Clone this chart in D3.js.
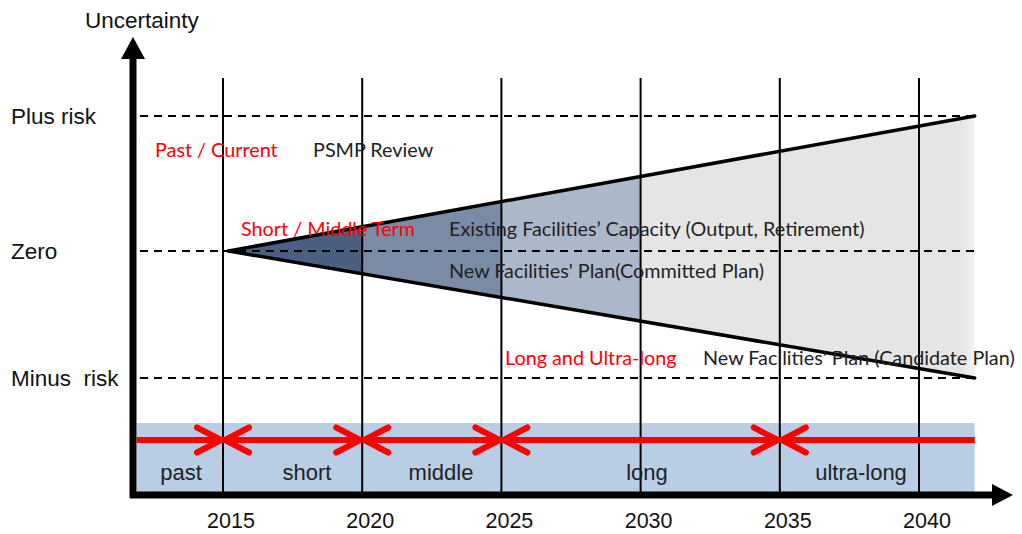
<!DOCTYPE html>
<html><head><meta charset="utf-8">
<script src="https://cdn.jsdelivr.net/npm/d3@7/dist/d3.min.js"></script>
<style>html,body{margin:0;padding:0;background:#fff;}svg{display:block;}</style>
</head><body>
<svg id="chart" width="1022" height="534"></svg>
<script>
// ---- data ----
const years = [2015, 2020, 2025, 2030, 2035, 2040];
const yearLabels = ["2015", "2020", "2025", "2030", "2035", "2040"];
const riskLevels = [1, 0, -1];
const riskLabels = ["Plus risk", "Zero", "Minus  risk"];
const periodNames = ["past", "short", "middle", "long", "ultra-long"];
const periodStarts = [2011.9, 2015, 2020, 2025, 2035];
const periodEnds = [2015, 2020, 2025, 2035, 2042];
const arrowBoundaries = [2015, 2020, 2025, 2035];
const coneStart = 2015.2;
const coneEnd = 2042;
const coneUpper = 1;     // uncertainty at coneEnd
const coneLower = -1;
const shadeBreaks = [2015.2, 2020, 2025, 2030, 2042];
const shadeColors = ["#4b5f82", "#7a8ba5", "#aab8ca", "#e5e5e5"];

const svg = d3.select("#chart");
const x = d3.scaleLinear().domain([2015, 2040]).range([223, 919]);
const y = d3.scaleLinear().domain([-1, 0, 1]).range([378, 251, 116]);

const axisX0 = 130, axisY0 = 495;
const font = "Arial, 'Liberation Sans', sans-serif";
const cfont = "Lato, 'Open Sans', sans-serif";

const upperAt = t => coneUpper * (t - coneStart) / (coneEnd - coneStart);
const lowerAt = t => coneLower * (t - coneStart) / (coneEnd - coneStart);

const defs = svg.append("defs");
const grad = defs.append("linearGradient").attr("id", "greyFade").attr("x1", "0").attr("x2", "1");
grad.append("stop").attr("offset", "0%").attr("stop-color", shadeColors[3]);
grad.append("stop").attr("offset", "96%").attr("stop-color", shadeColors[3]);
grad.append("stop").attr("offset", "100%").attr("stop-color", "#f2f2f2");

// cone shading bands
for (let i = 0; i < shadeColors.length; i++) {
  const a = shadeBreaks[i], b = shadeBreaks[i + 1];
  const pts = [[x(a), y(upperAt(a))], [x(b), y(upperAt(b))], [x(b), y(lowerAt(b))], [x(a), y(lowerAt(a))]];
  svg.append("path")
    .attr("d", d3.line()(pts) + "Z")
    .attr("fill", i === 3 ? "url(#greyFade)" : shadeColors[i]);
}

// bottom band
svg.append("rect")
  .attr("x", x(periodStarts[0])).attr("y", 423)
  .attr("width", x(coneEnd) - x(periodStarts[0])).attr("height", axisY0 - 423)
  .attr("fill", "#b9cde4");

// dashed lines
svg.selectAll(".dash").data(riskLevels).join("line")
  .attr("x1", 140).attr("x2", x(coneEnd))
  .attr("y1", d => y(d)).attr("y2", d => y(d))
  .attr("stroke", "#000").attr("stroke-width", 2).attr("stroke-dasharray", "8,6");

// vertical year lines
svg.selectAll(".vline").data(years).join("line")
  .attr("x1", d => x(d)).attr("x2", d => x(d))
  .attr("y1", 78).attr("y2", axisY0)
  .attr("stroke", "#000").attr("stroke-width", 2);

// cone edges
svg.append("line").attr("x1", x(coneStart)).attr("y1", y(0)).attr("x2", x(coneEnd)).attr("y2", y(coneUpper))
  .attr("stroke", "#000").attr("stroke-width", 3.5).attr("stroke-linecap", "round");
svg.append("line").attr("x1", x(coneStart)).attr("y1", y(0)).attr("x2", x(coneEnd)).attr("y2", y(coneLower))
  .attr("stroke", "#000").attr("stroke-width", 3.5).attr("stroke-linecap", "round");

// red arrow line
const ry = 440;
svg.append("line").attr("x1", x(periodStarts[0])).attr("x2", x(coneEnd)).attr("y1", ry).attr("y2", ry)
  .attr("stroke", "#ff0000").attr("stroke-width", 6);
arrowBoundaries.forEach(b => {
  const t = x(b);
  [-1, 1].forEach(s => {
    svg.append("path")
      .attr("d", `M${t + s * 26},${ry - 12.5}L${t + s * 2},${ry}L${t + s * 26},${ry + 12.5}`)
      .attr("fill", "none").attr("stroke", "#ff0000").attr("stroke-width", 6)
      .attr("stroke-linecap", "round").attr("stroke-linejoin", "miter");
  });
});

// period labels
const periodCenters = [181, 307, 441, 647, 861];
svg.selectAll(".plabel").data(periodNames).join("text")
  .attr("x", (d, i) => periodCenters[i])
  .attr("y", 480).attr("text-anchor", "middle")
  .attr("font-family", font).attr("font-size", 22).attr("fill", "#222")
  .text(d => d);

// axes
svg.append("line").attr("x1", axisX0).attr("x2", 995).attr("y1", axisY0).attr("y2", axisY0)
  .attr("stroke", "#000").attr("stroke-width", 7);
svg.append("path").attr("d", `M992,${axisY0 - 11}L1013,${axisY0}L992,${axisY0 + 11}Z`).attr("fill", "#000");
svg.append("line").attr("x1", 133).attr("x2", 133).attr("y1", axisY0 + 3).attr("y2", 57)
  .attr("stroke", "#000").attr("stroke-width", 7);
svg.append("path").attr("d", "M121,59L133,37L145,59Z").attr("fill", "#000");

// year tick labels
svg.selectAll(".ylab").data(years).join("text")
  .attr("x", d => x(d) + 8).attr("y", 528).attr("text-anchor", "middle")
  .attr("font-family", font).attr("font-size", 21.5).attr("fill", "#111")
  .text((d, i) => yearLabels[i]);

// risk labels
svg.selectAll(".rlab").data(riskLevels).join("text")
  .attr("x", 11).attr("y", d => y(d) + 8)
  .attr("font-family", font).attr("font-size", 22.5).attr("fill", "#111")
  .attr("xml:space", "preserve").style("white-space", "pre")
  .text((d, i) => riskLabels[i]);

svg.append("text").attr("x", 85).attr("y", 28)
  .attr("font-family", font).attr("font-size", 22.5).attr("fill", "#111").text("Uncertainty");

// annotations
const notes = [
  { t: "Past / Current", x: 155, y: 157, c: "#ff0000" },
  { t: "PSMP Review", x: 313, y: 157, c: "#222" },
  { t: "Short / Middle Term", x: 241, y: 236, c: "#ff0000" },
  { t: "Existing Facilities\u2019 Capacity (Output, Retirement)", x: 449, y: 236, c: "#222" },
  { t: "New Facilities' Plan(Committed Plan)", x: 449, y: 278, c: "#222" },
  { t: "Long and Ultra-long", x: 505, y: 365, c: "#ff0000" },
  { t: "New Facilities' Plan (Candidate Plan)", x: 703, y: 365, c: "#222" }
];
svg.selectAll(".note").data(notes).join("text")
  .attr("x", d => d.x).attr("y", d => d.y)
  .attr("font-family", cfont).attr("font-size", 19.8).attr("fill", d => d.c)
  .text(d => d.t);
</script>
</body></html>
